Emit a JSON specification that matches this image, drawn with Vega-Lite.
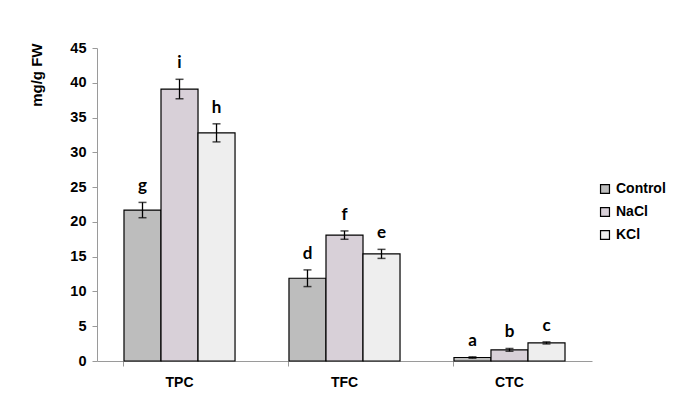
{
  "$schema": "https://vega.github.io/schema/vega-lite/v6.json",
  "width": 495,
  "height": 313,
  "autosize": {"type": "none"},
  "padding": {"left": 97, "top": 48, "right": 84, "bottom": 57},
  "background": "white",
  "config": {"view": {"stroke": null},
    "axisY": {"grid": false, "titleFont": "Liberation Sans", "titleFontWeight": "bold", "titleFontSize": 15, "titleColor": "black", "titleAngle": -90, "titleX": -61, "titleY": -5, "titleAlign": "right", "titleBaseline": "middle", "labelFont": "Liberation Sans", "labelFontWeight": "bold", "labelFontSize": 14.5, "labelColor": "black", "labelPadding": 6, "labelOverlap": false, "labelFlush": false, "domainColor": "#9a9a9a", "tickColor": "#9a9a9a", "tickSize": 5}
  },
  "data": {"values": [
    {"cat": "TPC", "trt": "Control", "mean": 21.7, "lo": 20.6, "hi": 22.8, "letter": "g"},
    {"cat": "TPC", "trt": "NaCl", "mean": 39.1, "lo": 37.7, "hi": 40.5, "letter": "i"},
    {"cat": "TPC", "trt": "KCl", "mean": 32.8, "lo": 31.5, "hi": 34.1, "letter": "h"},
    {"cat": "TFC", "trt": "Control", "mean": 11.9, "lo": 10.7, "hi": 13.1, "letter": "d"},
    {"cat": "TFC", "trt": "NaCl", "mean": 18.1, "lo": 17.5, "hi": 18.7, "letter": "f"},
    {"cat": "TFC", "trt": "KCl", "mean": 15.4, "lo": 14.75, "hi": 16.05, "letter": "e"},
    {"cat": "CTC", "trt": "Control", "mean": 0.5, "lo": 0.4, "hi": 0.6, "letter": "a"},
    {"cat": "CTC", "trt": "NaCl", "mean": 1.6, "lo": 1.4, "hi": 1.8, "letter": "b"},
    {"cat": "CTC", "trt": "KCl", "mean": 2.6, "lo": 2.45, "hi": 2.75, "letter": "c"}
  ]},
  "encoding": {
    "x": {"field": "cat", "type": "nominal", "sort": ["TPC", "TFC", "CTC"],
      "scale": {"paddingInner": 0.327, "paddingOuter": 0.1636},
      "axis": {"title": null, "labelAngle": 0, "labelFont": "Liberation Sans", "labelFontWeight": "bold", "labelFontSize": 14, "labelColor": "black", "labelPadding": 9, "domainColor": "#9a9a9a", "tickColor": "#9a9a9a", "tickSize": 5, "bandPosition": 0}},
    "xOffset": {"field": "trt", "type": "nominal", "sort": ["Control", "NaCl", "KCl"], "scale": {"paddingInner": 0, "paddingOuter": 0}}
  },
  "layer": [
    {
      "mark": {"type": "bar", "stroke": "black", "strokeWidth": 1.2},
      "encoding": {
        "y": {"field": "mean", "type": "quantitative",
          "scale": {"domain": [0, 45], "nice": false},
          "axis": {"values": [0,5,10,15,20,25,30,35,40,45], "title": "mg/g FW"}},
        "fill": {"field": "trt", "type": "nominal", "sort": ["Control", "NaCl", "KCl"],
          "scale": {"domain": ["Control", "NaCl", "KCl"], "range": ["#bdbdbd", "#d8d0d8", "#eeeeee"]},
          "legend": {"title": null, "orient": "none", "legendX": 501, "legendY": 134, "symbolType": "square", "symbolSize": 80, "symbolStrokeColor": "black", "symbolStrokeWidth": 1.2, "labelFont": "Liberation Sans", "labelFontWeight": "bold", "labelFontSize": 14, "labelColor": "black", "rowPadding": 9, "labelOffset": 4}}
      }
    },
    {
      "mark": {"type": "rule", "color": "black", "strokeWidth": 1.3},
      "encoding": {"y": {"field": "lo", "type": "quantitative", "axis": {"values": [0,5,10,15,20,25,30,35,40,45], "title": "mg/g FW"}}, "y2": {"field": "hi"}}
    },
    {
      "mark": {"type": "tick", "color": "black", "thickness": 1.5, "size": 8, "orient": "horizontal"},
      "encoding": {"y": {"field": "lo", "type": "quantitative", "axis": {"values": [0,5,10,15,20,25,30,35,40,45], "title": "mg/g FW"}}}
    },
    {
      "mark": {"type": "tick", "color": "black", "thickness": 1.5, "size": 8, "orient": "horizontal"},
      "encoding": {"y": {"field": "hi", "type": "quantitative", "axis": {"values": [0,5,10,15,20,25,30,35,40,45], "title": "mg/g FW"}}}
    },
    {
      "mark": {"type": "text", "font": "Lato", "fontWeight": "bold", "fontSize": 17, "color": "black", "baseline": "alphabetic", "dy": -11},
      "encoding": {"y": {"field": "hi", "type": "quantitative", "axis": {"values": [0,5,10,15,20,25,30,35,40,45], "title": "mg/g FW"}}, "text": {"field": "letter"}}
    }
  ]
}
